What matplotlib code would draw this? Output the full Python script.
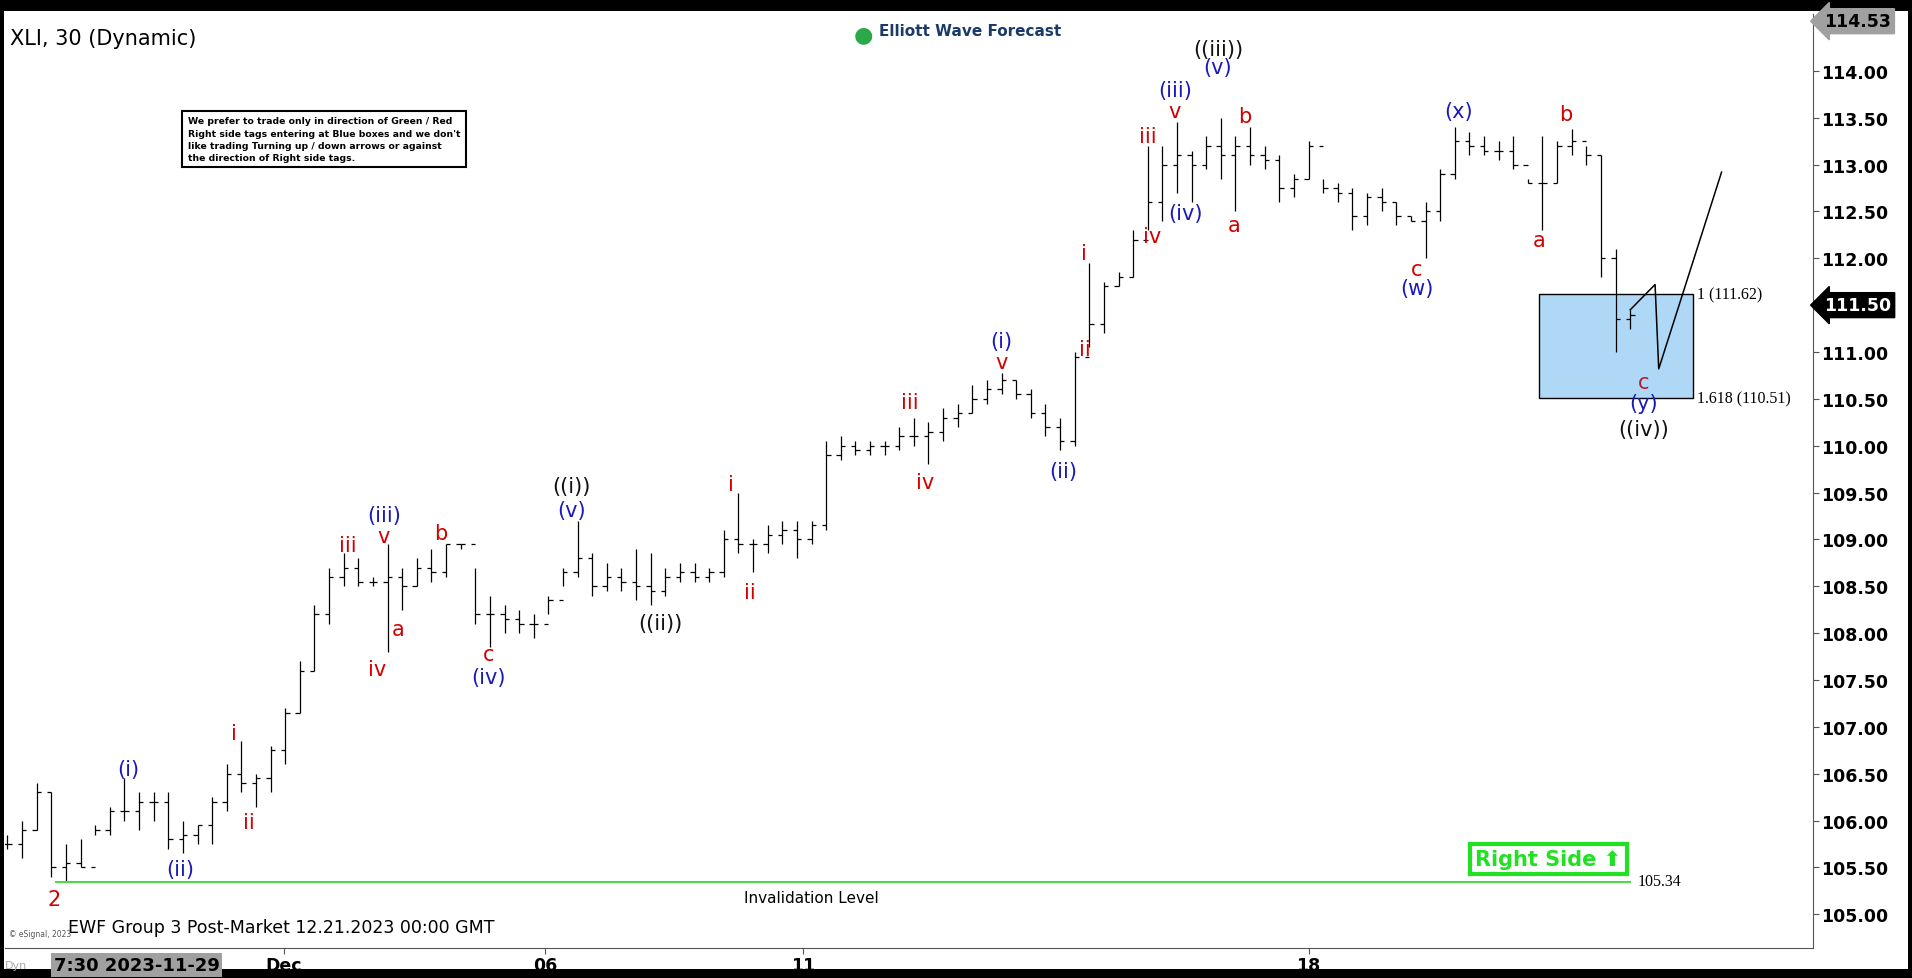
import matplotlib
matplotlib.use("Agg")
import matplotlib.pyplot as plt
from matplotlib.patches import Rectangle

# OHLC bars, 30 min sampled (high / low / close), open = previous close
highs = [105.85, 106.0, 106.4, 106.3, 105.75, 105.8, 105.95, 106.15, 106.45, 106.3,
         106.3, 106.3, 106.0, 105.95, 106.25, 106.6, 106.85, 106.5, 106.8, 107.2,
         107.7, 108.3, 108.7, 108.85, 108.8, 108.6, 108.95, 108.7, 108.8, 108.9,
         108.95, 108.95, 108.7, 108.4, 108.3, 108.25, 108.2, 108.4, 108.7, 109.2,
         108.85, 108.75, 108.7, 108.9, 108.85, 108.7, 108.75, 108.75, 108.7, 109.1,
         109.5, 109.0, 109.15, 109.2, 109.2, 109.2, 110.05, 110.1, 110.05, 110.05,
         110.05, 110.2, 110.3, 110.25, 110.4, 110.45, 110.65, 110.7, 110.78, 110.7,
         110.6, 110.45, 110.3, 111.0, 111.95, 111.75, 111.85, 112.3, 113.2, 113.2,
         113.45, 113.15, 113.3, 113.5, 113.3, 113.4, 113.2, 113.1, 112.9, 113.25,
         112.85, 112.8, 112.75, 112.7, 112.75, 112.6, 112.45, 112.6, 112.95, 113.4,
         113.35, 113.3, 113.25, 113.3, 112.85, 113.3, 113.25, 113.38, 113.2, 113.1,
         112.1, 111.45]
lows = [105.7, 105.6, 105.9, 105.4, 105.34, 105.5, 105.85, 105.85, 106.0, 105.9,
        106.0, 105.7, 105.65, 105.75, 105.75, 106.1, 106.3, 106.15, 106.3, 106.6,
        107.15, 107.6, 108.1, 108.5, 108.5, 108.5, 107.8, 108.25, 108.5, 108.55,
        108.6, 108.9, 108.1, 107.85, 108.0, 108.0, 107.95, 108.2, 108.5, 108.6,
        108.4, 108.45, 108.45, 108.35, 108.3, 108.4, 108.55, 108.55, 108.55, 108.6,
        108.85, 108.65, 108.85, 108.95, 108.8, 108.95, 109.1, 109.85, 109.9, 109.9,
        109.9, 109.95, 110.0, 109.8, 110.05, 110.2, 110.35, 110.45, 110.55, 110.5,
        110.3, 110.1, 109.95, 110.0, 111.05, 111.2, 111.7, 111.8, 112.3, 112.4,
        112.7, 112.6, 112.95, 112.85, 112.5, 113.0, 112.95, 112.6, 112.65, 112.85,
        112.7, 112.6, 112.3, 112.35, 112.5, 112.35, 112.4, 112.0, 112.4, 112.85,
        113.1, 113.1, 113.05, 112.95, 112.8, 112.3, 112.8, 113.1, 113.0, 111.8,
        111.0, 111.25]
closes = [105.75, 105.9, 106.3, 105.5, 105.55, 105.5, 105.9, 106.1, 106.1, 106.2,
          106.2, 105.8, 105.85, 105.95, 106.2, 106.5, 106.4, 106.45, 106.75, 107.15,
          107.6, 108.2, 108.6, 108.7, 108.55, 108.55, 108.6, 108.5, 108.7, 108.65,
          108.95, 108.95, 108.2, 108.2, 108.15, 108.1, 108.1, 108.35, 108.65, 108.8,
          108.5, 108.6, 108.55, 108.5, 108.45, 108.6, 108.65, 108.6, 108.65, 109.0,
          108.95, 108.95, 109.05, 109.1, 109.0, 109.15, 109.9, 110.0, 109.95, 110.0,
          110.0, 110.1, 110.1, 110.15, 110.3, 110.35, 110.5, 110.6, 110.7, 110.55,
          110.35, 110.2, 110.05, 110.95, 111.3, 111.7, 111.8, 112.2, 112.6, 113.0,
          113.1, 113.0, 113.2, 113.1, 113.2, 113.1, 113.05, 112.75, 112.85, 113.2,
          112.75, 112.7, 112.45, 112.65, 112.6, 112.45, 112.4, 112.5, 112.9, 113.25,
          113.2, 113.15, 113.15, 113.0, 112.8, 112.8, 113.2, 113.25, 113.1, 112.0,
          111.35, 111.4]

# wave labels: text, bar position, price, colour
RED, BLUE, BLACK = "#d40000", "#1a1ab8", "#111111"
wave_labels = [
    ("2", 3.2, 105.16, RED), ("(i)", 8.25, 106.55, BLUE), ("(ii)", 11.8, 105.48, BLUE),
    ("i", 15.5, 106.93, RED), ("ii", 16.5, 105.98, RED), ("iii", 23.25, 108.94, RED),
    ("v", 25.75, 109.04, RED), ("(iii)", 25.75, 109.26, BLUE), ("iv", 25.3, 107.62, RED),
    ("a", 26.75, 108.04, RED), ("b", 29.67, 109.07, RED), ("c", 32.9, 107.78, RED),
    ("(iv)", 32.9, 107.53, BLUE), ("(v)", 38.6, 109.31, BLUE), ("((i))", 38.6, 109.57, BLACK),
    ("((ii))", 44.67, 108.11, BLACK), ("i", 49.5, 109.59, RED), ("ii", 50.8, 108.44, RED),
    ("iii", 61.75, 110.47, RED), ("iv", 62.8, 109.61, RED), ("v", 68.0, 110.89, RED),
    ("(i)", 68.0, 111.12, BLUE), ("(ii)", 72.25, 109.73, BLUE), ("i", 73.6, 112.06, RED),
    ("ii", 73.7, 111.03, RED), ("iii", 78.0, 113.30, RED), ("iv", 78.3, 112.24, RED),
    ("(iv)", 80.6, 112.48, BLUE), ("v", 79.8, 113.57, RED), ("(iii)", 79.9, 113.80, BLUE),
    ("(v)", 82.8, 114.04, BLUE), ("((iii))", 82.8, 114.23, BLACK), ("b", 84.6, 113.52, RED),
    ("a", 83.9, 112.35, RED), ("c", 96.4, 111.89, RED), ("(w)", 96.4, 111.68, BLUE),
    ("(x)", 99.25, 113.57, BLUE), ("a", 104.8, 112.19, RED), ("b", 106.6, 113.54, RED),
    ("c", 111.9, 110.68, "#b0203a"), ("(y)", 111.9, 110.46, BLUE),
    ("((iv))", 111.9, 110.18, BLACK),
]

# projected path and levels
proj_x = [111.0, 112.7, 112.95, 117.25]
proj_y = [111.45, 111.72, 110.82, 112.92]
box_x = (104.75, 115.3)
fib_1, fib_1618 = 111.62, 110.51
invalidation = 105.34
last_price = 111.50
high_price = 114.53
date_ticks = [18.9, 36.8, 54.4, 89.0]
date_labels = ["Dec", "06", "11", "18"]

fig = plt.figure(figsize=(19.12, 9.79), dpi=100, facecolor="black")
bg = fig.add_axes([0, 0, 1, 1], zorder=-5)
bg.set_axis_off()
bg.set_xlim(0, 1)
bg.set_ylim(0, 1)
bg.add_patch(Rectangle((0.002, 0.009), 0.996, 0.979, facecolor="white", edgecolor="none"))

ax = fig.add_axes([0.0026, 0.0306, 0.9456, 0.9544])
ax.set_facecolor("white")

n = len(highs)
xs = list(range(n))
opens = [closes[0]] + closes[:-1]
ax.vlines(xs, lows, highs, color="black", lw=0.9)
ax.hlines(opens, [x - 0.3 for x in xs], xs, color="black", lw=0.9)
ax.hlines(closes, xs, [x + 0.3 for x in xs], color="black", lw=0.9)

# blue box and fib labels
ax.add_patch(Rectangle((box_x[0], fib_1618), box_x[1] - box_x[0], fib_1 - fib_1618,
                       facecolor="#aed8f6", edgecolor="black", lw=1, zorder=1))
ax.text(box_x[1] + 0.3, fib_1, "1 (111.62)", family="Liberation Serif", fontsize=11.5, va="center")
ax.text(box_x[1] + 0.3, fib_1618, "1.618 (110.51)", family="Liberation Serif", fontsize=11.5, va="center")
ax.plot(proj_x, proj_y, color="black", lw=1.1, zorder=3)

# invalidation
ax.plot([3.3, 111.0], [invalidation, invalidation], color="#4cd94c", lw=1.5)
ax.text(111.5, invalidation + 0.02, "105.34", family="Liberation Serif", fontsize=11.5, va="center")
ax.text(55, 105.18, "Invalidation Level", fontsize=11, ha="center", va="center")
ax.text(105.4, 105.59, "Right Side \u2b06", fontsize=15, fontweight="bold", color="#22e022",
        ha="center", va="center",
        bbox=dict(boxstyle="square,pad=0.25", facecolor="white", edgecolor="#22e022", lw=3))

for txt, x, y, c in wave_labels:
    ax.text(x, y, txt, color=c, fontsize=15, ha="center", va="center")

# note box
ax.text(0.101, 0.89, "We prefer to trade only in direction of Green / Red\n"
        "Right side tags entering at Blue boxes and we don't\n"
        "like trading Turning up / down arrows or against\n"
        "the direction of Right side tags.", transform=ax.transAxes,
        fontsize=6.7, fontweight="bold", va="top", ha="left", linespacing=1.45,
        bbox=dict(boxstyle="square,pad=0.6", facecolor="white", edgecolor="black", lw=1.5))

ax.text(0.003, 0.985, "XLI, 30 (Dynamic)", transform=ax.transAxes, fontsize=15, va="top")
ax.text(0.534, 0.99, "Elliott Wave Forecast", transform=ax.transAxes, fontsize=11,
        fontweight="bold", color="#1a3a6a", va="top", ha="center")
ax.text(0.475, 0.978, "\u25cf", transform=ax.transAxes, fontsize=16, color="#2aa84a",
        va="center", ha="center")
ax.text(0.035, 0.022, "EWF Group 3 Post-Market 12.21.2023 00:00 GMT", transform=ax.transAxes,
        fontsize=12.5, va="center")
ax.text(0.002, 0.016, "\u00a9 eSignal, 2023", transform=ax.transAxes, fontsize=5.5, color="#555555",
        va="center")

ax.set_xlim(-0.17, 123.5)
ax.set_ylim(104.64, 114.61)
ax.yaxis.tick_right()
ax.set_yticks([105 + 0.5 * k for k in range(19)])
ax.set_yticklabels([f"{105 + 0.5 * k:.2f}" for k in range(19)], fontsize=12.5, fontweight="bold")
ax.set_xticks(date_ticks)
ax.set_xticklabels(date_labels, fontsize=12.5, fontweight="bold")
ax.tick_params(axis="both", length=4, color="#555555", pad=2)
for s in ["top", "left"]:
    ax.spines[s].set_visible(False)
for s in ["right", "bottom"]:
    ax.spines[s].set_color("#555555")

# price flags on axis
ax.annotate(f"{last_price:.2f}", xy=(1.0, last_price), xycoords=("axes fraction", "data"),
            xytext=(8, 0), textcoords="offset points", fontsize=12.5, fontweight="bold",
            color="white", va="center",
            bbox=dict(boxstyle="larrow,pad=0.2", facecolor="black", edgecolor="black"))
ax.annotate(f"{high_price:.2f}", xy=(1.0, high_price), xycoords=("axes fraction", "data"),
            xytext=(8, 0), textcoords="offset points", fontsize=12.5, fontweight="bold",
            color="black", va="center",
            bbox=dict(boxstyle="larrow,pad=0.2", facecolor="#a0a0a0", edgecolor="#a0a0a0"))

ax.text(0.0, -0.018, "Dyn", transform=ax.transAxes, fontsize=8, color="#aaaaaa", va="center")
ax.text(0.027, -0.018, "7:30 2023-11-29", transform=ax.transAxes, fontsize=13, fontweight="bold",
        va="center", bbox=dict(boxstyle="square,pad=0.15", facecolor="#a0a0a0", edgecolor="none"))

fig.savefig("out.png", dpi=100, facecolor="black")
